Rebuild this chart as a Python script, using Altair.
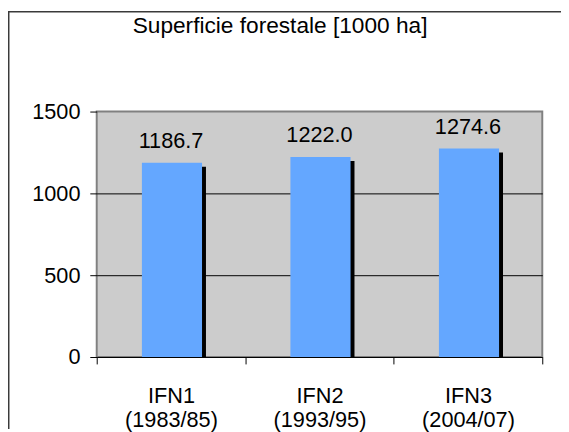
import altair as alt
import pandas as pd

categories = ["IFN1", "IFN2", "IFN3"]
periods = ["(1983/85)", "(1993/95)", "(2004/07)"]
values = [1186.7, 1222.0, 1274.6]
y_ticks = [0, 500, 1000, 1500]
title_text = "Superficie forestale [1000 ha]"

df = pd.DataFrame({
    "cat": [c + "\n" + p for c, p in zip(categories, periods)],
    "value": values,
})

FONT = "Liberation Sans"
FS = 22
W, H = 452, 249
PAD = {"left": 90, "top": 102, "right": 19, "bottom": 73}

x_enc = alt.X(
    "cat:N",
    sort=None,
    scale=alt.Scale(paddingInner=0, paddingOuter=0),
    axis=alt.Axis(
        title=None,
        labelAngle=0,
        labelExpr="split(datum.label, '\\n')",
        labelLineHeight=24,
        labelFont=FONT,
        labelFontSize=FS,
        labelColor="black",
        labelPadding=22,
        tickBand="extent",
        tickSize=7,
        tickColor="black",
        domainColor="black",
        domainWidth=1,
        grid=False,
    ),
)
y_enc = alt.Y(
    "value:Q",
    scale=alt.Scale(domain=[0, 1500], nice=False),
    axis=alt.Axis(
        title=None,
        values=y_ticks,
        format="d",
        labelFont=FONT,
        labelFontSize=FS,
        labelColor="black",
        labelPadding=10,
        tickSize=7,
        tickColor="black",
        domain=False,
        grid=True,
        gridColor="black",
        gridWidth=1,
        gridOpacity=alt.condition("datum.value >= 1500 || datum.value <= 0", alt.value(0), alt.value(1)),
    ),
)

base = alt.Chart(df)

shadow = base.mark_bar(color="black", size=61, xOffset=5, yOffset=4, clip=True).encode(x=x_enc, y=y_enc)
bars = base.mark_bar(color="#64A7FF", size=61, xOffset=1).encode(x=x_enc, y=y_enc)
labels = base.mark_text(
    font=FONT, fontSize=FS, color="black", baseline="alphabetic", dy=-15
).encode(x=x_enc, y=y_enc, text=alt.Text("value:Q", format=".1f"))

border_src = alt.Chart(alt.Data(values=[{}]))
border_v = border_src.mark_rule(color="#3a3a3a", strokeWidth=1.5).encode(
    x=alt.value(-89.25), y=alt.value(-101.25), y2=alt.value(H + PAD["bottom"])
)
border_h = border_src.mark_rule(color="#3a3a3a", strokeWidth=1.5).encode(
    x=alt.value(-90), x2=alt.value(W + PAD["right"]), y=alt.value(-101.25)
)

chart = alt.layer(shadow, bars, labels, border_v, border_h).properties(
    width=W,
    height=H,
    padding=PAD,
    background="white",
    autosize=alt.AutoSizeParams(type="none"),
    title=alt.TitleParams(
        title_text, font=FONT, fontSize=23, fontWeight="normal", color="black",
        anchor="middle", dx=-40, dy=31,
    ),
).configure_view(
    stroke="#808080", strokeWidth=2, fill="#CCCCCC"
)

chart.save("out.html", embed_options={"renderer": "svg", "actions": False})
